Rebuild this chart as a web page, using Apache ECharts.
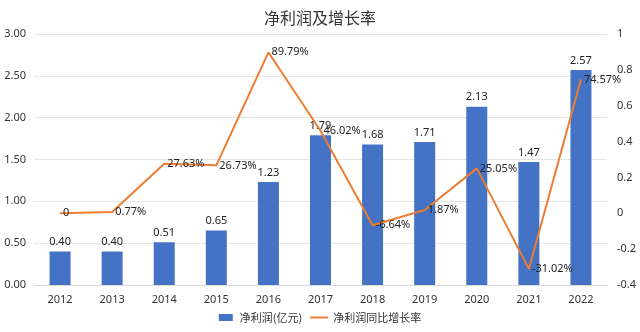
<!DOCTYPE html>
<html><head><meta charset="utf-8">
<script src="https://cdn.jsdelivr.net/npm/echarts@6/dist/echarts.min.js"></script>
<style>html,body{margin:0;padding:0;background:#fff}#c{width:640px;height:332px}</style>
</head><body><div id="c"></div>
<script>
var years = ['2012','2013','2014','2015','2016','2017','2018','2019','2020','2021','2022'];
var profit = [0.40,0.40,0.51,0.65,1.23,1.79,1.68,1.71,2.13,1.47,2.57];
var growthPct = [0,0.77,27.63,26.73,89.79,46.02,-6.64,1.87,25.05,-31.02,74.57];
var leftTicks = {min:0,max:3,interval:0.5};
var rightTicks = {min:-0.4,max:1,interval:0.2};
var FONT = '"Noto Sans", "Noto Sans CJK SC", sans-serif';
var chart = echarts.init(document.getElementById('c'));
chart.setOption({
  animation:false,
  backgroundColor:'#fff',
  textStyle:{fontFamily:FONT},
  title:{text:'净利润及增长率',left:'center',top:5,textStyle:{fontSize:16,fontWeight:'normal',color:'#333',fontFamily:'"Noto Sans CJK SC", sans-serif'}},
  grid:{left:34,right:33,top:34,bottom:47,containLabel:false},
  legend:{bottom:4,left:'center',itemGap:8,itemWidth:18,itemHeight:7,textStyle:{fontSize:11,color:'#333',fontFamily:'"Noto Sans CJK SC", sans-serif'},
    data:[{name:'净利润(亿元)',icon:'path://M0,0 L14,0 L14,7 L0,7 Z',itemStyle:{color:'#4472C4'}},
          {name:'净利润同比增长率',icon:'path://M0,0 L18,0 L18,2 L0,2 Z',itemStyle:{color:'#ED7D31',borderWidth:0}}]},
  xAxis:{type:'category',data:years,axisTick:{show:false},axisLine:{lineStyle:{color:'#d9d9d9'}},
    axisLabel:{color:'#333',fontSize:11,margin:9}},
  yAxis:[
    {type:'value',min:leftTicks.min,max:leftTicks.max,interval:leftTicks.interval,
     axisLabel:{color:'#333',fontSize:11,formatter:function(v){return v.toFixed(2);}},
     splitLine:{lineStyle:{color:'#e5e5e5'}},axisLine:{show:false},axisTick:{show:false}},
    {type:'value',min:rightTicks.min,max:rightTicks.max,interval:rightTicks.interval,
     axisLabel:{color:'#333',fontSize:11,margin:10,formatter:function(v){return String(Math.round(v*10)/10);}},
     splitLine:{show:false},axisLine:{show:false},axisTick:{show:false}}
  ],
  series:[
    {name:'净利润(亿元)',type:'bar',data:profit,barWidth:21,itemStyle:{color:'#4472C4'},
     label:{show:true,position:'top',color:'#222',fontSize:11,distance:4,formatter:function(p){return p.value.toFixed(2);}}},
    {name:'净利润同比增长率',type:'line',yAxisIndex:1,data:growthPct.map(function(v){return v/100;}),
     symbol:'circle',symbolSize:0.01,showSymbol:true,lineStyle:{color:'#ED7D31',width:2},itemStyle:{color:'#ED7D31'},
     labelLayout:{hideOverlap:false},
     label:{show:true,position:'right',distance:3,color:'#222',fontSize:11,
       formatter:function(p){var v=growthPct[p.dataIndex];return v===0?'0':v.toFixed(2)+'%';}}}
  ]
});
</script></body></html>
